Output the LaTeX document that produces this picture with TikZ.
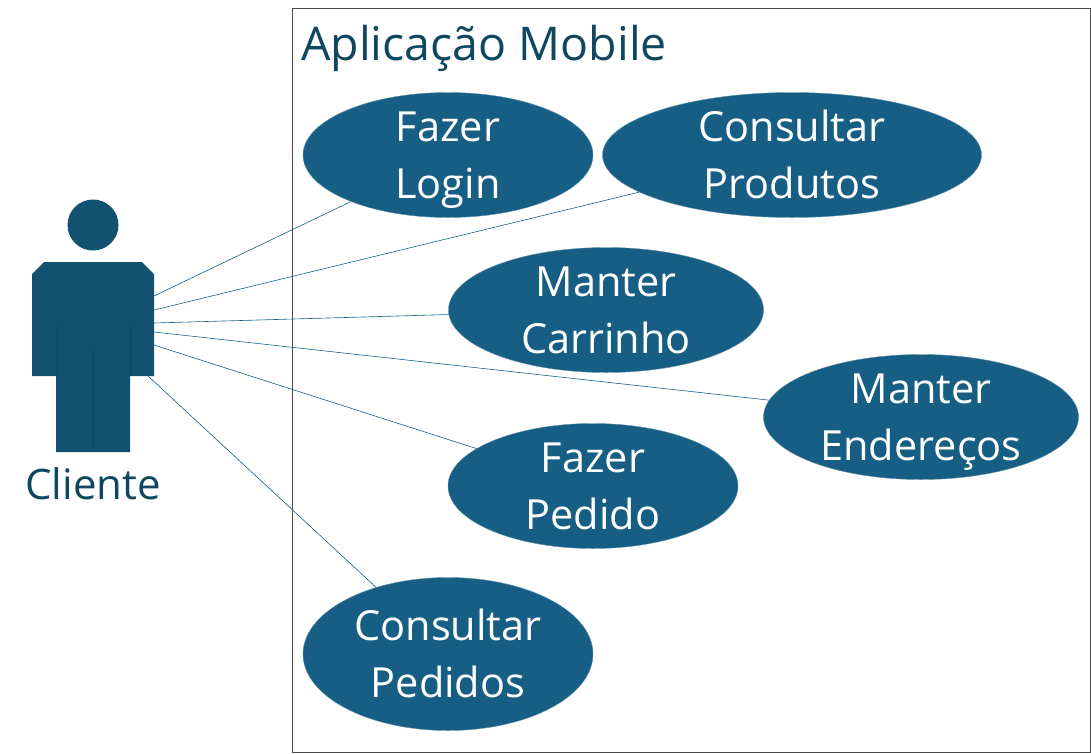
\documentclass[tikz,border=0pt]{standalone}
\usepackage{fontspec}
\setmainfont{Open Sans}
\usetikzlibrary{shapes.geometric}
\usetikzlibrary{positioning}
\definecolor{ucblue}{HTML}{175E84}
\definecolor{ucdark}{HTML}{12516F}
\definecolor{uctext}{HTML}{0F4761}
\begin{document}
\begin{tikzpicture}[x=1pt,y=-1pt]
\tikzset{
  usecase/.style = {ellipse,draw=ucblue!70!white,line width=0.4pt,fill=ucblue,inner sep=-40pt,text height=100pt,text depth=14pt,text=white,align=center,font=\fontsize{41.5}{57}\selectfont},
  assoc/.style = {draw=ucblue,line width=0.6pt},
  actorpart/.style = {fill=ucdark,draw=none}
}
\useasboundingbox (0,0) rectangle (1091,753);
\node[draw=black!70,line width=0.6pt,minimum width=798pt,minimum height=744pt,inner sep=0,anchor=north west] (sys) at (292,8) {};
\node[anchor=base west,text=uctext,font=\fontsize{46.5}{48}\selectfont,inner sep=0] (title) at (301,60) {Aplicação Mobile};

\node[usecase,minimum width=290pt,minimum height=125pt] (login) at (448,155) {Fazer\\Login};
\node[usecase,minimum width=379pt,minimum height=125pt] (prod) at (792,155) {Consultar\\Produtos};
\node[usecase,minimum width=315pt,minimum height=125pt] (car) at (606,310) {Manter\\Carrinho};
\node[usecase,minimum width=315pt,minimum height=125pt] (end) at (921,417) {Manter\\Endereços};
\node[usecase,minimum width=290pt,minimum height=125pt] (ped) at (593,486) {Fazer\\Pedido};
\node[usecase,minimum width=290pt,minimum height=153pt] (cons) at (448,654) {Consultar\\Pedidos};

%actor
\node[circle,actorpart,minimum size=51pt,inner sep=0] (head) at (93,225) {};
\fill[ucdark] (44,262) -- (142,262) -- (154,274) -- (154,376) -- (130,376) -- (130,452) -- (56,452) -- (56,376) -- (32,376) -- (32,274) -- cycle;
\draw[uctext,line width=0.5pt] (57,325) -- (57,376) (130,325) -- (130,376) (93,350) -- (93,452);
\node[anchor=base,text=uctext,font=\fontsize{42}{48}\selectfont,inner sep=0] (cli) at (93,499) {Cliente};

\coordinate (a1) at (154,296);
\coordinate (a2) at (154,310);
\coordinate (a3) at (154,323);
\coordinate (a4) at (154,332);
\coordinate (a5) at (154,345);
\coordinate (a6) at (148,376);
\path[assoc]
  (a1) edge (login)
  (a2) edge (prod)
  (a3) edge (car)
  (a4) edge (end)
  (a5) edge (ped)
  (a6) edge (cons);
\end{tikzpicture}
\end{document}
